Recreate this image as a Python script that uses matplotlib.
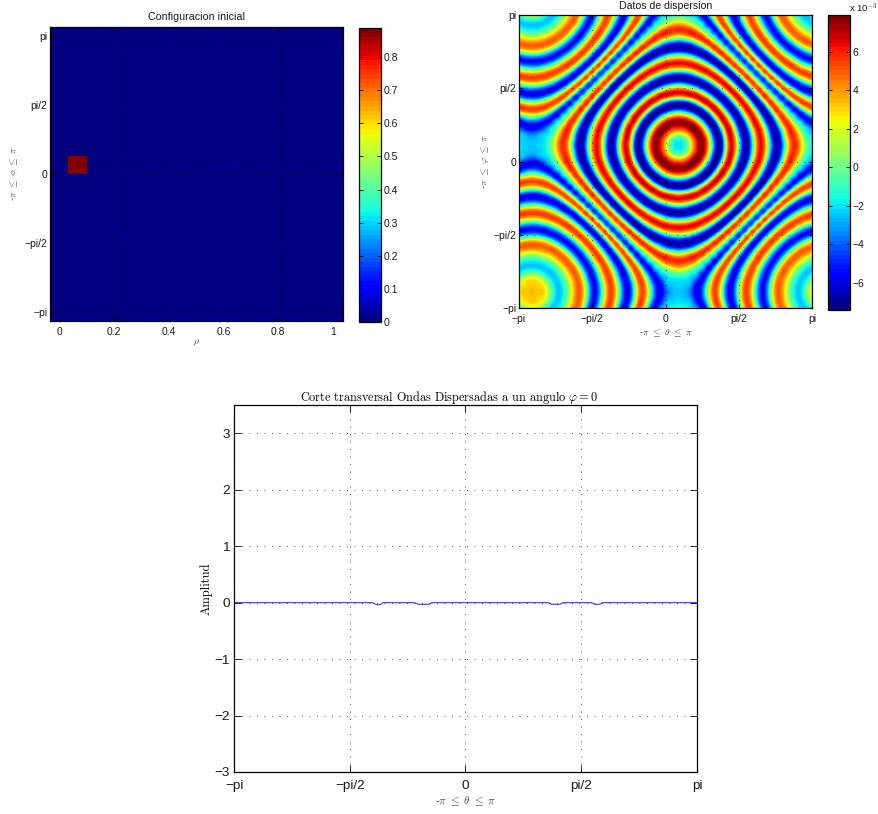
import matplotlib
matplotlib.use('Agg')
import matplotlib.pyplot as plt
import numpy as np

plt.rcParams['font.family'] = ['Liberation Sans', 'DejaVu Sans']
plt.rcParams['mathtext.fontset'] = 'cm'
plt.rcParams['axes.unicode_minus'] = True

W, H = 879, 814

# top left panel: one hot cell on an empty grid
rho_edges = [-0.033, 0.033, 0.102, 1.037]
phi_edges = [-1.069 * np.pi, 0.0, 0.41, 1.069 * np.pi]
init_values = [[0.0, 0.0, 0.0],
               [0.0, 0.888, 0.0],
               [0.0, 0.0, 0.0]]

# top right panel: values (x 1e-3).
# Lower left quarter, ring centre -> far corner, 25 x 25 samples. It looks
# mirror symmetric, so only the upper triangle of the quarter is kept.
disp_rows = [
    [-2, -1.4, 2.2, 6.4, 7.4, 2.9, -4.9, -6.2, 3.6, 5.9, -1.5, -7, -2.3, 5.3, 5, -1.9, -6.8, -3.8, 3, 5.9, 3.4, -.1, -1.9, -2.3, -2.5],
    [-.6, 3.2, 6.6, 7.4, 2, -5.5, -5.9, 4.5, 5.5, -2.2, -7, -1.8, 5.5, 4.7, -2.5, -7, -3, 3.7, 5.7, 2.9, -.5, -2, -2.5, -2.7],
    [5.7, 8, 6, -.3, -7, -3.7, 5.9, 4.3, -4, -6.6, -.3, 6.2, 3.5, -3.9, -6.8, -1.5, 5.2, 5.2, 1.4, -1.6, -2.5, -3.3, -4],
    [6.9, 2.6, -4.2, -7, .5, 6.8, 1.7, -6, -5.2, 2.6, 6.4, 1.1, -5.8, -5.2, 1.6, 5.9, 3.3, -.7, -2.5, -4.6, -5.8, -5.9],
    [-3, -7.2, -3.5, 5.6, 5.1, -2.3, -7, -2.1, 5.5, 4.8, -2.6, -7, -2.1, 5, 4.8, -.3, -2.5, -5.3, -5.4, -4, -3.5],
    [-4.7, 3.6, 6.6, .9, -6.1, -5.1, 2.6, 6.3, 1, -6, -5, 3, 5.4, .4, -2.5, -5.9, -3.6, -.5, 1.4, 2.2],
    [6.9, 2.2, -4.8, -6.4, -.3, 6.2, 3.5, -4.2, -6.5, 1, 5.9, 1.3, -2.5, -5.7, -1.6, 3, 5.2, 5.5, 5.4],
    [-4.2, -6.6, -1.8, 5.3, 5, -2.4, -7, -1, 5.9, 2, -2.5, -5.4, .3, 5, 5, 3.2, 1.6, 1],
    [-2.3, 4.8, 5.8, -1, -6.8, -2.3, 5.7, 2.5, -2.5, -4.9, 2.2, 5.4, 2.7, -1.2, -3.7, -5, -5.2],
    [5.9, -.3, -6.6, -3, 5.2, 2.9, -2.5, -4.4, 3.5, 4.7, -.2, -4.6, -6, -5.4, -4.8, -4.5],
    [-6.6, -3.7, 4.8, 3.1, -2.5, -4, 4.3, 3.6, -2.7, -6, -4.8, -2.5, -.5, 1, 1.3],
    [4.9, 3.3, -2.5, -3.8, 4.8, 2.5, -4.4, -5.5, -2.7, 1.1, 3.7, 5.1, 5.4, 5.5],
    [-2.5, -3.6, 5.1, 1.6, -5.2, -4.8, -.4, 3.7, 5.4, 5.1, 3.9, 2.9, 2.5],
    [5.2, 1.1, -5.6, -4, 1.3, 5.2, 5.1, 2.6, .2, -1.8, -3, -3.3],
    [-5.8, -3.6, 2.3, 5.5, 4, .3, -3.1, -4.9, -5.5, -5.3, -5.2],
    [2.7, 5.5, 2.9, -1.5, -4.7, -5.3, -3.9, -2, -.6, -.2],
    [2.5, -2.4, -5.4, -4.4, -1.1, 2, 3.9, 4.6, 4.7],
    [-5.4, -3.5, .8, 4.2, 5, 4.5, 4.1, 3.9],
    [1.4, 4.7, 4.6, 3.2, 1.8, .9, .6],
    [4.4, 2.3, .3, -1, -1.7, -1.9],
    [-.2, -1.8, -2.4, -2.4, -2.3],
    [-2.5, -1.6, -.2, .3],
    [.8, 2.4, 2.8],
    [3, 3.3],
    [3.5],
]
ring_theta = 0.283
ring_phi = 0.346

# bottom panel: the cut, flat except four shallow dips
cut_theta = [-3.1416, -1.26, -1.22, -1.187, -1.15, -1.12, -0.69, -0.64, -0.50, -0.45,
             1.13, 1.17, 1.28, 1.33, 1.71, 1.75, 1.82, 1.86, 3.1416]
cut_amp = [0, 0, -0.03, -0.04, -0.03, 0, 0, -0.03, -0.03, 0,
           0, -0.03, -0.03, 0, 0, -0.03, -0.03, 0, 0]

pi_ticks = [-np.pi, -np.pi / 2, 0, np.pi / 2, np.pi]
pi_labels = ['\u2212pi', '\u2212pi/2', '0', 'pi/2', 'pi']


def px_axes(x0, y0, x1, y1):
    return fig.add_axes([x0 / W, 1 - y1 / H, (x1 - x0) / W, (y1 - y0) / H])


def style(ax, size):
    ax.tick_params(direction='in', top=True, right=True, length=3, width=0.6,
                   labelsize=size, pad=2, labelcolor='0.1')
    ax.tick_params(axis='x', pad=4)
    ax.grid(True, color='0.1', linewidth=0.6, dashes=(1, 8))
    ax.set_axisbelow(False)
    for s in ax.spines.values():
        s.set_linewidth(0.9)


def style_bar(cb, size):
    cb.ax.tick_params(direction='in', left=True, right=True, length=3, width=0.6,
                      labelsize=size, pad=2, labelcolor='0.1')
    cb.outline.set_linewidth(0.9)


fig = plt.figure(figsize=(W / 100, H / 100), dpi=100)
jet = plt.get_cmap('jet', 64)

# ---- Configuracion inicial
ax1 = px_axes(50, 27, 343, 321)
mesh = ax1.pcolormesh(rho_edges, phi_edges, init_values, cmap=jet, vmin=0, vmax=0.888)
ax1.set_xlim(-0.033, 1.037)
ax1.set_ylim(-1.069 * np.pi, 1.069 * np.pi)
ax1.set_xticks([0, 0.2, 0.4, 0.6, 0.8, 1])
ax1.set_xticklabels(['0', '0.2', '0.4', '0.6', '0.8', '1'])
ax1.set_yticks(pi_ticks)
ax1.set_yticklabels(pi_labels)
style(ax1, 7.5)
ax1.set_title('Configuracion inicial', fontsize=7.7, pad=5, color='0.1')
ax1.set_xlabel(r'$\rho$', fontsize=7, labelpad=1, color='0.25')
ax1.set_ylabel(r'-$\pi$ $\leq$ $\phi$ $\leq$ $\pi$', fontsize=7, labelpad=3, color='0.35')
cb1 = fig.colorbar(mesh, cax=px_axes(359, 28, 381, 322),
                   ticks=[0, .1, .2, .3, .4, .5, .6, .7, .8])
cb1.ax.set_yticklabels(['0', '0.1', '0.2', '0.3', '0.4', '0.5', '0.6', '0.7', '0.8'])
style_bar(cb1, 7.5)

# ---- Datos de dispersion
quad = np.zeros((25, 25))
for i, row in enumerate(disp_rows):
    quad[i, i:] = row
    quad[i:, i] = row
k = np.arange(-30, 31)
fold = np.abs((k + 24) % 48 - 24)
field = quad[np.ix_(fold, fold)]
step = 2 * np.pi / 48

ax2 = px_axes(519, 15, 812, 308)
im = ax2.imshow(field, cmap=jet, vmin=-7.43, vmax=7.93, origin='lower', aspect='auto',
                interpolation='spline36',
                extent=[ring_theta - 30.5 * step, ring_theta + 30.5 * step,
                        ring_phi - 30.5 * step, ring_phi + 30.5 * step])
ax2.set_xlim(-np.pi, np.pi)
ax2.set_ylim(-np.pi, np.pi)
ax2.set_xticks(pi_ticks)
ax2.set_xticklabels(pi_labels)
ax2.set_yticks(pi_ticks)
ax2.set_yticklabels(pi_labels)
style(ax2, 7.5)
ax2.set_title('Datos de dispersion', fontsize=7.6, pad=4, color='0.1')
ax2.set_xlabel(r'-$\pi$ $\leq$ $\theta$ $\leq$ $\pi$', fontsize=7, labelpad=2, color='0.25')
ax2.set_ylabel(r'-$\pi$ $\leq$ $\varphi$ $\leq$ $\pi$', fontsize=7, labelpad=2, color='0.35')
cb2 = fig.colorbar(im, cax=px_axes(828, 15, 850, 310), ticks=[-6, -4, -2, 0, 2, 4, 6])
style_bar(cb2, 7.5)
fig.text(849 / W, 1 - 12 / H, r'x 10$^{-3}$', fontsize=6.8, color='0.1')

# ---- Corte transversal
ax3 = px_axes(234, 405, 697, 772)
ax3.plot(cut_theta, cut_amp, color='#5050e0', linewidth=0.9)
ax3.set_xlim(-np.pi, np.pi)
ax3.set_ylim(-3, 3.5)
ax3.set_xticks(pi_ticks)
ax3.set_xticklabels(pi_labels)
ax3.set_yticks([-3, -2, -1, 0, 1, 2, 3])
style(ax3, 9.7)
ax3.tick_params(length=5)
ax3.tick_params(axis='y', pad=3)
ax3.tick_params(axis='x', pad=6)
ax3.set_title(r'Corte transversal Ondas Dispersadas a un angulo $\varphi=0$',
              fontsize=8.8, family='cmr10', pad=3, x=0.464)
ax3.set_xlabel(r'-$\pi$ $\leq$ $\theta$ $\leq$ $\pi$', fontsize=8, labelpad=2, color='0.25')
ax3.set_ylabel('Amplitud', fontsize=9, family='cmr10', labelpad=1)

fig.savefig('out.png', dpi=100)
